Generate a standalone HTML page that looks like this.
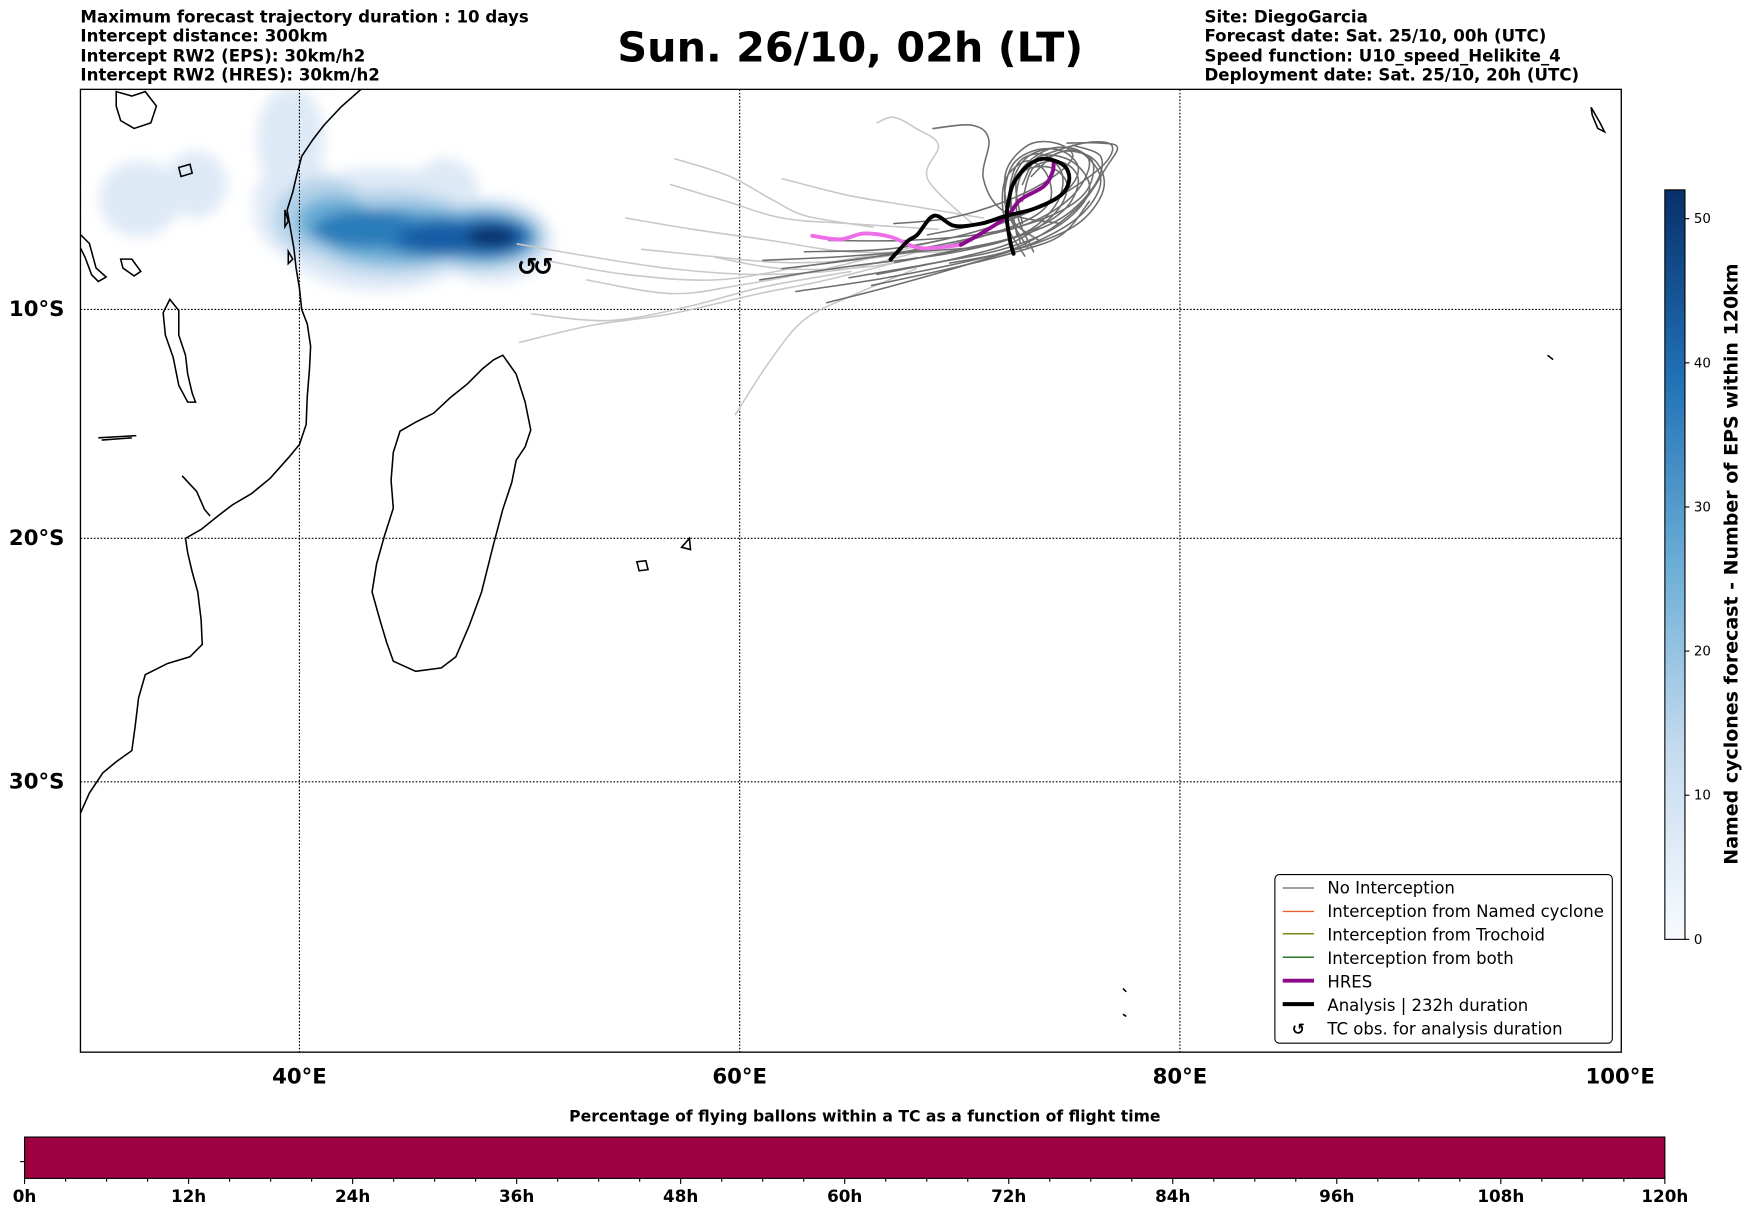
<!DOCTYPE html>
<html><head><meta charset="utf-8"><style>
html,body{margin:0;padding:0;background:#fff;}
svg{display:block;font-family:"DejaVu Sans","Liberation Sans",sans-serif;}
</style></head><body>
<svg id="fig" width="1752" height="1213" viewBox="0 0 1568 1086" preserveAspectRatio="none">
<defs>
<filter id="blur" filterUnits="userSpaceOnUse" x="0" y="0" width="700" height="400"><feGaussianBlur stdDeviation="6"/></filter>
<linearGradient id="blues" x1="0" y1="1" x2="0" y2="0">
<stop offset="0" stop-color="#f7fbff"/><stop offset="0.25" stop-color="#c6dbef"/><stop offset="0.5" stop-color="#6baed6"/><stop offset="0.75" stop-color="#2171b5"/><stop offset="1" stop-color="#08306b"/>
</linearGradient>
<clipPath id="mapclip"><rect x="72" y="80" width="1379" height="862"/></clipPath>
</defs>

<g font-weight="bold" font-size="14.9" fill="#000">
<text x="72" y="20">Maximum forecast trajectory duration : 10 days</text>
<text x="72" y="37">Intercept distance: 300km</text>
<text x="72" y="55">Intercept RW2 (EPS):  30km/h2</text>
<text x="72" y="72">Intercept RW2 (HRES): 30km/h2</text>
</g>
<text x="761" y="55" text-anchor="middle" font-size="37" font-weight="bold">Sun. 26/10, 02h (LT)</text>
<g font-weight="bold" font-size="14.9" fill="#000">
<text x="1078" y="20">Site: DiegoGarcia</text>
<text x="1078" y="37">Forecast date: Sat. 25/10, 00h (UTC)</text>
<text x="1078" y="55">Speed function: U10_speed_Helikite_4</text>
<text x="1078" y="72">Deployment date: Sat. 25/10, 20h (UTC)</text>
</g>

<g clip-path="url(#mapclip)">
<g filter="url(#blur)">
<g fill="#dee9f6">
<ellipse cx="260" cy="125" rx="30" ry="48"/><ellipse cx="265" cy="185" rx="38" ry="45"/><ellipse cx="340" cy="205" rx="95" ry="55"/><ellipse cx="398" cy="172" rx="30" ry="30"/><ellipse cx="440" cy="215" rx="55" ry="38"/>
<ellipse cx="125" cy="178" rx="36" ry="34"/><ellipse cx="175" cy="165" rx="28" ry="30"/><ellipse cx="345" cy="175" rx="40" ry="20"/>
</g>
<g fill="#b3d2e9"><ellipse cx="290" cy="195" rx="45" ry="35"/><ellipse cx="350" cy="208" rx="80" ry="38"/><ellipse cx="430" cy="212" rx="58" ry="30"/></g>
<g fill="#6baed6"><ellipse cx="300" cy="198" rx="35" ry="22"/><ellipse cx="360" cy="210" rx="75" ry="26"/><ellipse cx="430" cy="212" rx="52" ry="24"/></g>
<g fill="#2b7bba"><ellipse cx="330" cy="205" rx="50" ry="17"/><ellipse cx="395" cy="212" rx="60" ry="18"/><ellipse cx="435" cy="212" rx="42" ry="19"/></g>
<g fill="#125ca4"><ellipse cx="400" cy="213" rx="45" ry="12"/><ellipse cx="438" cy="212" rx="32" ry="14"/></g>
<ellipse cx="440" cy="212" rx="22" ry="9" fill="#08306b"/>
</g>

<g fill="none" stroke="#000" stroke-width="1.4">
<path d="M323,80 L305,96 L290,112 L280,125 L270,140 L266,155 L262,172 L257,188 L260,205 L263,222 L265,240 L268,258 L270,277 L275,290 L278,310 L277,330 L275,355 L274,380 L268,398 L258,410 L242,428 L225,442 L208,452 L195,462 L180,474 L166,482 L168,495 L172,512 L177,530 L180,555 L181,577 L170,588 L150,594 L130,604 L124,625 L121,650 L118,672 L104,682 L92,692 L80,710 L72,728"/>
<path d="M72,210 L80,218 L86,240 L95,248 L88,252 L82,246 L76,230 L72,222"/>
<path d="M152,268 L160,278 L160,300 L166,318 L168,335 L172,352 L175,360 L168,360 L160,345 L155,320 L148,300 L146,280 Z"/>
<path d="M108,232 L118,232 L126,243 L120,247 L110,240 Z"/>
<path d="M88,392 L122,390 M91,394 L118,392"/>
<path d="M163,426 L176,440 L183,456 L188,462"/>
<path d="M450,318 L462,335 L470,360 L475,385 L470,400 L462,412 L458,432 L450,456 L441,490 L431,530 L420,560 L408,588 L395,598 L372,601 L352,592 L346,575 L340,555 L333,530 L337,505 L344,480 L352,455 L350,430 L352,405 L358,386 L372,378 L388,370 L403,356 L418,344 L432,330 L442,322 Z"/>
<path d="M570,503 L578,502 L580,510 L572,511 Z"/>
<path d="M610,490 L617,482 L618,492 Z"/>
<path d="M104,82 L118,86 L130,82 L140,95 L135,110 L120,115 L108,108 L104,95 Z"/>
<path d="M160,150 L170,147 L172,155 L162,158 Z"/>
<path d="M255,188 L258,198 L255,203 Z M258,225 L262,232 L258,236 Z"/>
<path d="M1424,96 L1432,110 L1436,118 L1430,115 L1425,103 Z"/>
<path d="M1385,318 L1390,322 M1005,885 L1008,888 M1005,908 L1008,910"/>
</g>

<g stroke="#000" stroke-width="1" stroke-dasharray="1.5,1.5">
<line x1="268" y1="80" x2="268" y2="942"/><line x1="662" y1="80" x2="662" y2="942"/><line x1="1056" y1="80" x2="1056" y2="942"/>
<line x1="72" y1="277" x2="1451" y2="277"/><line x1="72" y1="482" x2="1451" y2="482"/><line x1="72" y1="700" x2="1451" y2="700"/>
</g>

<g id="tracks"></g>
<text x="477" y="246" text-anchor="middle" font-size="22" font-weight="bold" letter-spacing="-4">↺↺</text>
</g>
<rect x="72" y="80" width="1379" height="862" fill="none" stroke="#000" stroke-width="1.2"/>

<g font-size="19" font-weight="bold">
<text x="8" y="283">10°S</text><text x="8" y="488">20°S</text><text x="8" y="706">30°S</text>
</g>
<g font-size="19" font-weight="bold" text-anchor="middle">
<text x="268" y="970">40°E</text><text x="662" y="970">60°E</text><text x="1056" y="970">80°E</text><text x="1450" y="970">100°E</text>
</g>

<g>
<rect x="1141" y="783" width="302" height="151" rx="4" fill="#fff" stroke="#000" stroke-width="1"/>
<g font-size="14.8">
<line x1="1148" y1="795" x2="1176" y2="795" stroke="#808080" stroke-width="1.3"/><text x="1188" y="800">No Interception</text>
<line x1="1148" y1="816" x2="1176" y2="816" stroke="#e8632b" stroke-width="1.3"/><text x="1188" y="821">Interception from Named cyclone</text>
<line x1="1148" y1="836" x2="1176" y2="836" stroke="#7a8a1a" stroke-width="1.3"/><text x="1188" y="842">Interception from Trochoid</text>
<line x1="1148" y1="857" x2="1176" y2="857" stroke="#2a7a2a" stroke-width="1.3"/><text x="1188" y="863">Interception from both</text>
<line x1="1148" y1="878" x2="1176" y2="878" stroke="#8b0a8b" stroke-width="3.5"/><text x="1188" y="884">HRES</text>
<line x1="1148" y1="899" x2="1176" y2="899" stroke="#000" stroke-width="3.5"/><text x="1188" y="905">Analysis | 232h duration</text>
<text x="1162" y="926" text-anchor="middle" font-weight="bold" font-size="14">↺</text><text x="1188" y="926">TC obs. for analysis duration</text>
</g>
</g>

<g>
<rect x="1490" y="170" width="18" height="671" fill="url(#blues)" stroke="#000" stroke-width="1"/>
<g id="cbticks" font-size="12"></g>
<text transform="translate(1555,505) rotate(-90)" text-anchor="middle" font-size="17" font-weight="bold">Named cyclones forecast - Number of EPS within 120km</text>
</g>

<text x="774" y="1004" text-anchor="middle" font-size="14" font-weight="bold">Percentage of flying ballons within a TC as a function of flight time</text>
<g>
<rect x="22" y="1018" width="1468" height="37" fill="#9e0142" stroke="#000" stroke-width="1"/>
<line x1="22" y1="1040" x2="18" y2="1040" stroke="#000"/>
<g id="hticks" font-size="15" font-weight="bold"></g>
</g>
</svg>
<script>
// ---- data ----
const hresLon = [63.25,64.52,65.58,66.80,68.17,70.0,70.91,72.08,72.69,73.76,74.16,74.21];
const hresLat = [6.69,6.85,6.59,6.74,7.25,7.10,6.59,5.83,5.07,4.46,3.81,3.35];
const anaLon = [66.80,67.56,68.02,68.78,69.70,70.91,72.08,73.30,74.52,74.92,74.67,73.76,73.0,72.39,72.18,72.08,72.23,72.39];
const anaLat = [7.76,6.95,6.64,5.78,6.24,6.14,5.78,5.48,4.87,4.16,3.50,3.20,3.55,4.31,5.07,5.83,6.89,7.50];
const lightTracks = [
 [[49.85,7.06],[52.74,7.56],[56.80,8.17],[60.86,8.43],[64.92,8.17],[68.98,7.16]],
 [[49.95,11.47],[53.25,10.71],[56.80,10.20],[60.86,9.29],[63.91,8.68],[67.97,7.66]],
 [[51.22,7.82],[54.77,8.43],[58.83,8.68],[62.89,8.07],[66.95,7.41]],
 [[59.75,14.67],[61.37,12.23],[62.89,10.46],[64.92,9.44],[67.97,8.17]],
 [[52.99,8.68],[56.80,9.29],[59.85,8.93],[63.91,8.17],[68.98,6.90]],
 [[56.80,4.37],[59.34,5.13],[61.88,5.89],[64.92,6.14],[68.98,6.40]],
 [[61.88,4.11],[64.92,4.87],[67.97,5.38],[71.02,5.89]],
 [[66.19,1.57],[66.95,1.32],[67.97,1.83],[68.98,2.59],[68.48,4.11],[70.51,6.14]],
 [[58.83,7.66],[61.88,8.17],[65.94,8.07],[70.0,7.26]],
 [[54.77,5.89],[57.82,6.40],[61.37,6.90],[64.92,7.41],[69.49,7.41]],
 [[50.5,10.2],[54.0,10.5],[57.5,9.9],[61.0,9.0],[65.0,8.3]],
 [[55.5,7.3],[58.5,7.6],[62.0,7.9],[66.0,7.7],[70.5,6.9]],
 [[57.0,3.2],[59.5,4.0],[61.5,5.1],[63.0,5.8],[66.0,6.3]]
];
const darkTracks = [
 [[61.88,8.17],[65.94,7.66],[70.0,6.90],[73.05,6.14],[75.08,4.87],[75.84,3.35],[74.82,2.69],[73.05,3.10],[72.28,4.62],[72.54,6.65]],
 [[62.89,7.41],[66.95,7.26],[71.02,6.40],[74.06,5.13],[76.35,3.60],[76.85,2.59],[75.58,2.49],[73.55,3.10]],
 [[63.91,9.70],[66.95,8.93],[70.51,7.92],[73.55,6.90],[75.58,5.63],[76.35,4.11],[75.33,2.84],[73.81,2.84],[72.54,4.11],[72.79,6.14]],
 [[64.92,8.58],[68.48,7.97],[72.03,7.26],[74.57,6.14],[75.84,4.62],[75.08,3.35],[73.55,3.10],[72.79,4.37]],
 [[66.95,6.14],[69.49,5.89],[72.03,5.13],[74.06,4.11],[75.08,3.10],[74.31,2.49],[73.05,2.59],[72.03,3.86],[72.28,5.89],[73.55,6.90]],
 [[68.73,1.83],[70.51,1.68],[71.27,2.34],[71.02,4.11],[72.03,5.63],[74.57,6.14]],
 [[60.86,8.68],[64.92,8.07],[68.98,7.56],[72.03,6.90],[74.57,5.89],[76.09,4.37],[76.35,3.10],[75.08,2.59]],
 [[68.48,6.65],[71.02,6.14],[73.05,5.63],[74.82,4.62],[75.33,3.60],[74.57,2.84],[73.30,2.84],[72.28,3.60],[72.03,5.38],[73.05,7.26]],
 [[69.49,7.92],[72.03,7.41],[74.06,6.40],[75.58,5.13],[76.60,3.60],[77.11,2.69],[76.35,2.49],[74.82,2.49]],
 [[65.94,8.93],[69.49,8.17],[72.54,7.41],[74.57,6.65],[75.84,5.13]],
 [[63.91,7.92],[67.97,7.41],[71.02,7.16],[73.30,6.40],[74.82,5.38],[75.33,4.11],[74.57,3.35],[73.30,3.60],[72.79,5.13]],
 [[66.19,8.43],[70.0,7.66],[72.54,6.90],[74.31,5.63],[74.82,4.37],[74.06,3.60],[72.79,3.86],[72.54,5.63],[73.30,7.41]],
 [[62.5,9.2],[66.5,8.6],[70.5,7.8],[73.5,7.0],[75.5,6.0],[76.5,4.5],[76.0,3.2],[74.5,2.9],[73.2,4.0]],
 [[67.0,7.9],[70.0,7.3],[72.8,6.6],[74.3,5.3],[74.6,3.9],[73.7,3.0],[72.6,3.4],[72.2,5.0],[72.7,7.0]],
 [[64.0,6.9],[67.5,6.9],[71.0,6.6],[73.8,5.9],[75.6,4.8],[76.0,3.4],[75.0,2.8],[73.6,3.3]],
 [[61.0,7.8],[65.0,7.6],[69.0,7.2],[72.5,6.2],[74.0,5.2],[73.9,3.9],[73.0,3.3],[72.0,4.2],[72.0,6.0],[72.9,7.6]]
];
const cbTicks = [0,10,20,30,40,50];
const cbMax = 52;
const hourTicks = [0,12,24,36,48,60,72,84,96,108,120];
const hourMax = 120;
const hourMinorStep = 3;

// ---- axis functions ----
function xLon(lon){ return 72 + (lon-30)*19.7; }
function yLat(lat){ const r = lat*Math.PI/180; return 79 + 1128.7*Math.log(Math.tan(Math.PI/4 + r/2)); }
const NS = 'http://www.w3.org/2000/svg';
function pathFrom(pts){
  const P = pts.map(p=>[xLon(p[0]), yLat(p[1])]);
  let d = 'M'+P[0][0].toFixed(1)+','+P[0][1].toFixed(1);
  for(let i=1;i<P.length;i++){
    const p0=P[i-2]||P[i-1], p1=P[i-1], p2=P[i], p3=P[i+1]||P[i];
    const c1=[p1[0]+(p2[0]-p0[0])/6, p1[1]+(p2[1]-p0[1])/6];
    const c2=[p2[0]-(p3[0]-p1[0])/6, p2[1]-(p3[1]-p1[1])/6];
    d += ' C'+c1[0].toFixed(1)+','+c1[1].toFixed(1)+' '+c2[0].toFixed(1)+','+c2[1].toFixed(1)+' '+p2[0].toFixed(1)+','+p2[1].toFixed(1);
  }
  return d;
}
const tg = document.getElementById('tracks');
function addPath(pts, color, w, name){
  const p = document.createElementNS(NS,'path');
  p.setAttribute('d', pathFrom(pts));
  p.setAttribute('fill','none'); p.setAttribute('stroke',color); p.setAttribute('stroke-width',w);
  p.setAttribute('stroke-linejoin','round'); p.setAttribute('stroke-linecap','round');
  
  
  tg.appendChild(p);
}
lightTracks.forEach(t=>addPath(t,'#c8c8c8',1.4,'eps-track-light'));
darkTracks.forEach(t=>addPath(t,'#6e6e6e',1.4,'eps-track-dark'));
const hres = hresLon.map((v,i)=>[v,hresLat[i]]);
addPath(hres.slice(0,6),'#ee6ee8',3.5,'hres-track-early');
addPath(hres.slice(5),'#8b0a8b',3.5,'hres-track-late');
addPath(anaLon.map((v,i)=>[v,anaLat[i]]),'#000',3.5,'analysis-track');

const cg = document.getElementById('cbticks');
function yCb(v){ return 841 - v/cbMax*671; }
cbTicks.forEach(v=>{
  const l = document.createElementNS(NS,'line');
  l.setAttribute('x1',1508); l.setAttribute('x2',1512); l.setAttribute('y1',yCb(v)); l.setAttribute('y2',yCb(v)); l.setAttribute('stroke','#000');
  
  
  cg.appendChild(l);
  const t = document.createElementNS(NS,'text');
  t.setAttribute('x',1516); t.setAttribute('y',yCb(v)+4); t.textContent = v;
  
  
  cg.appendChild(t);
});
const hg = document.getElementById('hticks');
function xHour(h){ return 22 + h/hourMax*1468; }
for(let h=0; h<=hourMax; h+=hourMinorStep){
  const major = hourTicks.includes(h);
  const l = document.createElementNS(NS,'line');
  l.setAttribute('x1',xHour(h)); l.setAttribute('x2',xHour(h)); l.setAttribute('y1',1055); l.setAttribute('y2',major?1060:1058); l.setAttribute('stroke','#000');
  
  
  hg.appendChild(l);
}
hourTicks.forEach(h=>{
  const t = document.createElementNS(NS,'text');
  t.setAttribute('x',xHour(h)); t.setAttribute('y',1076); t.setAttribute('text-anchor','middle'); t.textContent = h+'h';
  
  
  hg.appendChild(t);
});
</script>
</body></html>
